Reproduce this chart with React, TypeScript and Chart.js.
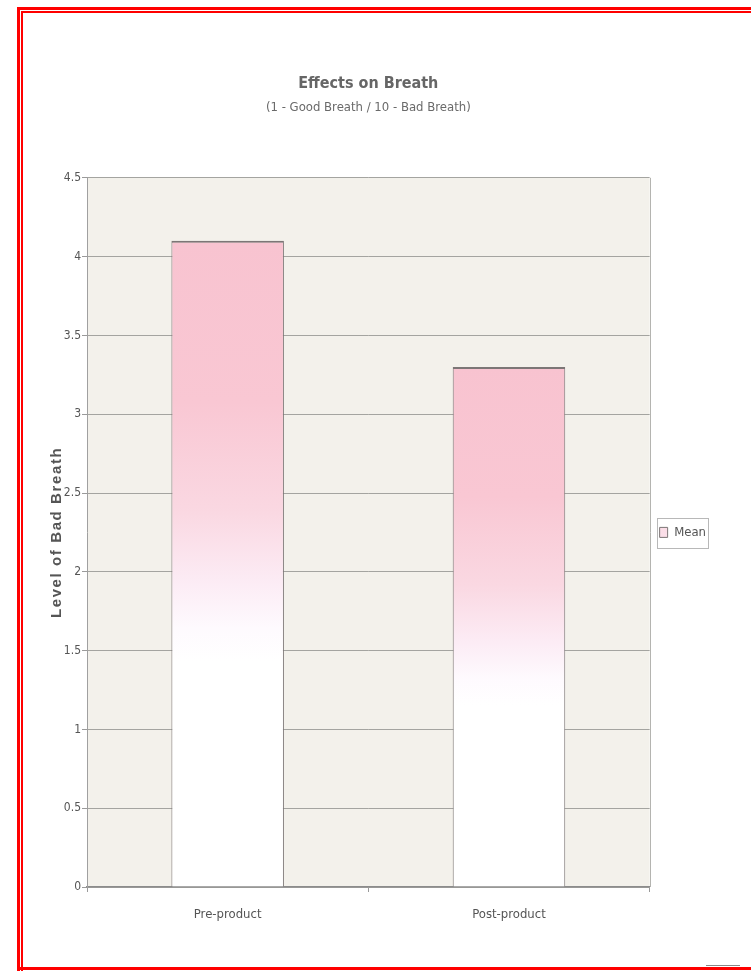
import React, { useEffect, useRef } from "react";
import { Chart, registerables } from "chart.js";

Chart.register(...registerables);

const categories: string[] = ["Pre-product", "Post-product"];
const meanValues: number[] = [4.1, 3.3];
const seriesLabel = "Mean";
const yMin = 0;
const yMax = 4.5;
const yStep = 0.5;
const titleText = "Effects on Breath";
const subtitleText = "(1 - Good Breath / 10 - Bad Breath)";
const yAxisTitle = "Level of Bad Breath";

const NARROW = "'Liberation Sans Narrow', 'Arial Narrow', 'DejaVu Sans Condensed', sans-serif";

const plotBgPlugin = {
  id: "plotBg",
  beforeDraw(chart: any) {
    const { ctx, chartArea } = chart;
    if (!chartArea) return;
    ctx.save();
    ctx.fillStyle = "#f3f1eb";
    ctx.fillRect(chartArea.left, chartArea.top, chartArea.right - chartArea.left, chartArea.bottom - chartArea.top);
    ctx.restore();
  },
  beforeDatasetsDraw(chart: any) {
    const { ctx, chartArea } = chart;
    if (!chartArea) return;
    ctx.save();
    ctx.strokeStyle = "#b4b4b0";
    ctx.lineWidth = 1;
    ctx.beginPath();
    ctx.moveTo(Math.round(chartArea.right) + 0.5, chartArea.top);
    ctx.lineTo(Math.round(chartArea.right) + 0.5, chartArea.bottom);
    ctx.stroke();
    ctx.restore();
  },
};

const yTitlePlugin = {
  id: "yTitleSpaced",
  afterDraw(chart: any) {
    const { ctx, chartArea } = chart;
    if (!chartArea) return;
    ctx.save();
    ctx.translate(57, (chartArea.top + chartArea.bottom) / 2);
    ctx.rotate(-Math.PI / 2);
    ctx.font = "bold 15px 'Liberation Sans', Arial, sans-serif";
    (ctx as any).letterSpacing = "1.6px";
    ctx.fillStyle = "#555555";
    ctx.textAlign = "center";
    ctx.textBaseline = "middle";
    ctx.fillText(yAxisTitle, 0, 0);
    ctx.restore();
  },
};

const legendFramePlugin = {
  id: "legendFrame",
  afterDraw(chart: any) {
    const lg = chart.legend;
    if (!lg || !lg.legendHitBoxes || !lg.legendHitBoxes.length) return;
    const hb = lg.legendHitBoxes[0];
    const { ctx } = chart;
    ctx.save();
    ctx.strokeStyle = "#b8b8b8";
    ctx.lineWidth = 1;
    const x = Math.round(hb.left - 3) + 0.5;
    const y = Math.round(hb.top - 8) + 0.5;
    const w = Math.round(hb.width + 5);
    const h = Math.round(hb.height + 17);
    ctx.strokeRect(x, y, w, h);
    ctx.restore();
  },
};

function barGradient(c: any) {
  const chart = c.chart;
  const { ctx, chartArea, scales } = chart;
  if (!chartArea || c.type !== "data" || !scales || !scales.y) return "#f9cdd8";
  const v = meanValues[c.dataIndex];
  const top = scales.y.getPixelForValue(v);
  const bot = scales.y.getPixelForValue(0);
  const g = ctx.createLinearGradient(0, top, 0, bot);
  g.addColorStop(0, "#f8c3d0");
  g.addColorStop(0.25, "#f9c7d3");
  g.addColorStop(0.42, "#fad8e2");
  g.addColorStop(0.53, "#fcecf5");
  g.addColorStop(0.6, "#fefafe");
  g.addColorStop(0.65, "#ffffff");
  g.addColorStop(1, "#ffffff");
  return g;
}

export default function App() {
  const ref = useRef<HTMLCanvasElement | null>(null);

  useEffect(() => {
    if (!ref.current) return;
    const chart = new Chart(ref.current, {
      type: "bar",
      data: {
        labels: categories,
        datasets: [
          {
            label: seriesLabel,
            data: meanValues,
            backgroundColor: barGradient,
            borderColor: "#7c7676",
            borderWidth: { top: 2, left: 1, right: 1, bottom: 0 } as any,
            borderSkipped: false,
            categoryPercentage: 0.8,
            barPercentage: 0.5,
          },
        ],
      },
      options: {
        responsive: false,
        animation: false,
        devicePixelRatio: 1,
        layout: { padding: { top: 0, left: 48, right: 35, bottom: 29 } },
        plugins: {
          title: {
            display: true,
            fullSize: false,
            text: titleText,
            color: "#666666",
            font: { family: NARROW, size: 16, weight: "bold" },
            padding: { top: 74, bottom: 5 },
          },
          subtitle: {
            display: true,
            fullSize: false,
            text: subtitleText,
            color: "#6a6a6a",
            font: { family: NARROW, size: 13 },
            padding: { top: 2, bottom: 62 },
          },
          legend: {
            display: true,
            position: "right",
            align: "center",
            fullSize: false,
            labels: {
              boxWidth: 8,
              boxHeight: 10,
              color: "#555555",
              font: { family: NARROW, size: 13 },
              padding: 10,
            },
          },
          tooltip: { enabled: false },
        },
        scales: {
          x: {
            type: "category",
            offset: true,
            grid: {
              display: true,
              drawOnChartArea: false,
              drawTicks: true,
              tickLength: 5,
              color: "#9a9a9a",
              offset: true,
            },
            border: { display: true, color: "#8c8c8c", width: 1.5 },
            ticks: {
              color: "#555555",
              font: { family: NARROW, size: 13 },
              padding: 15,
            },
            afterFit(scale: any) {
              scale.height = 55;
            },
          },
          y: {
            min: yMin,
            max: yMax,
            grid: {
              color: "#a4a4a0",
              lineWidth: 1,
              drawTicks: true,
              tickLength: 5,
              tickColor: "#9a9a9a",
            },
            border: { display: true, color: "#a0a0a0", width: 1 },
            ticks: {
              stepSize: yStep,
              color: "#555555",
              font: { family: NARROW, size: 12 },
              padding: 1,
              callback: (v: any) => String(v),
            },
            title: { display: false },
            afterFit(scale: any) {
              scale.width = 39;
            },
          },
        },
      },
      plugins: [plotBgPlugin, legendFramePlugin, yTitlePlugin],
    });
    return () => chart.destroy();
  }, []);

  const red = "#ff0000";
  return (
    <div style={{ position: "absolute", left: 0, top: 0, width: 751, height: 971, background: "#ffffff", overflow: "hidden" }}>
      <canvas ref={ref} width={751} height={971} style={{ position: "absolute", left: 0, top: 0, width: 751, height: 971 }} />
      <div style={{ position: "absolute", left: 17, top: 7, width: 3, height: 964, background: red }} />
      <div style={{ position: "absolute", left: 21, top: 11, width: 2, height: 960, background: red }} />
      <div style={{ position: "absolute", left: 17, top: 7, width: 734, height: 3, background: red }} />
      <div style={{ position: "absolute", left: 21, top: 11, width: 730, height: 2, background: red }} />
      <div style={{ position: "absolute", left: 17, top: 967, width: 734, height: 3, background: red }} />
      <div style={{ position: "absolute", left: 706, top: 965, width: 34, height: 1, background: "#888888" }} />
    </div>
  );
}
